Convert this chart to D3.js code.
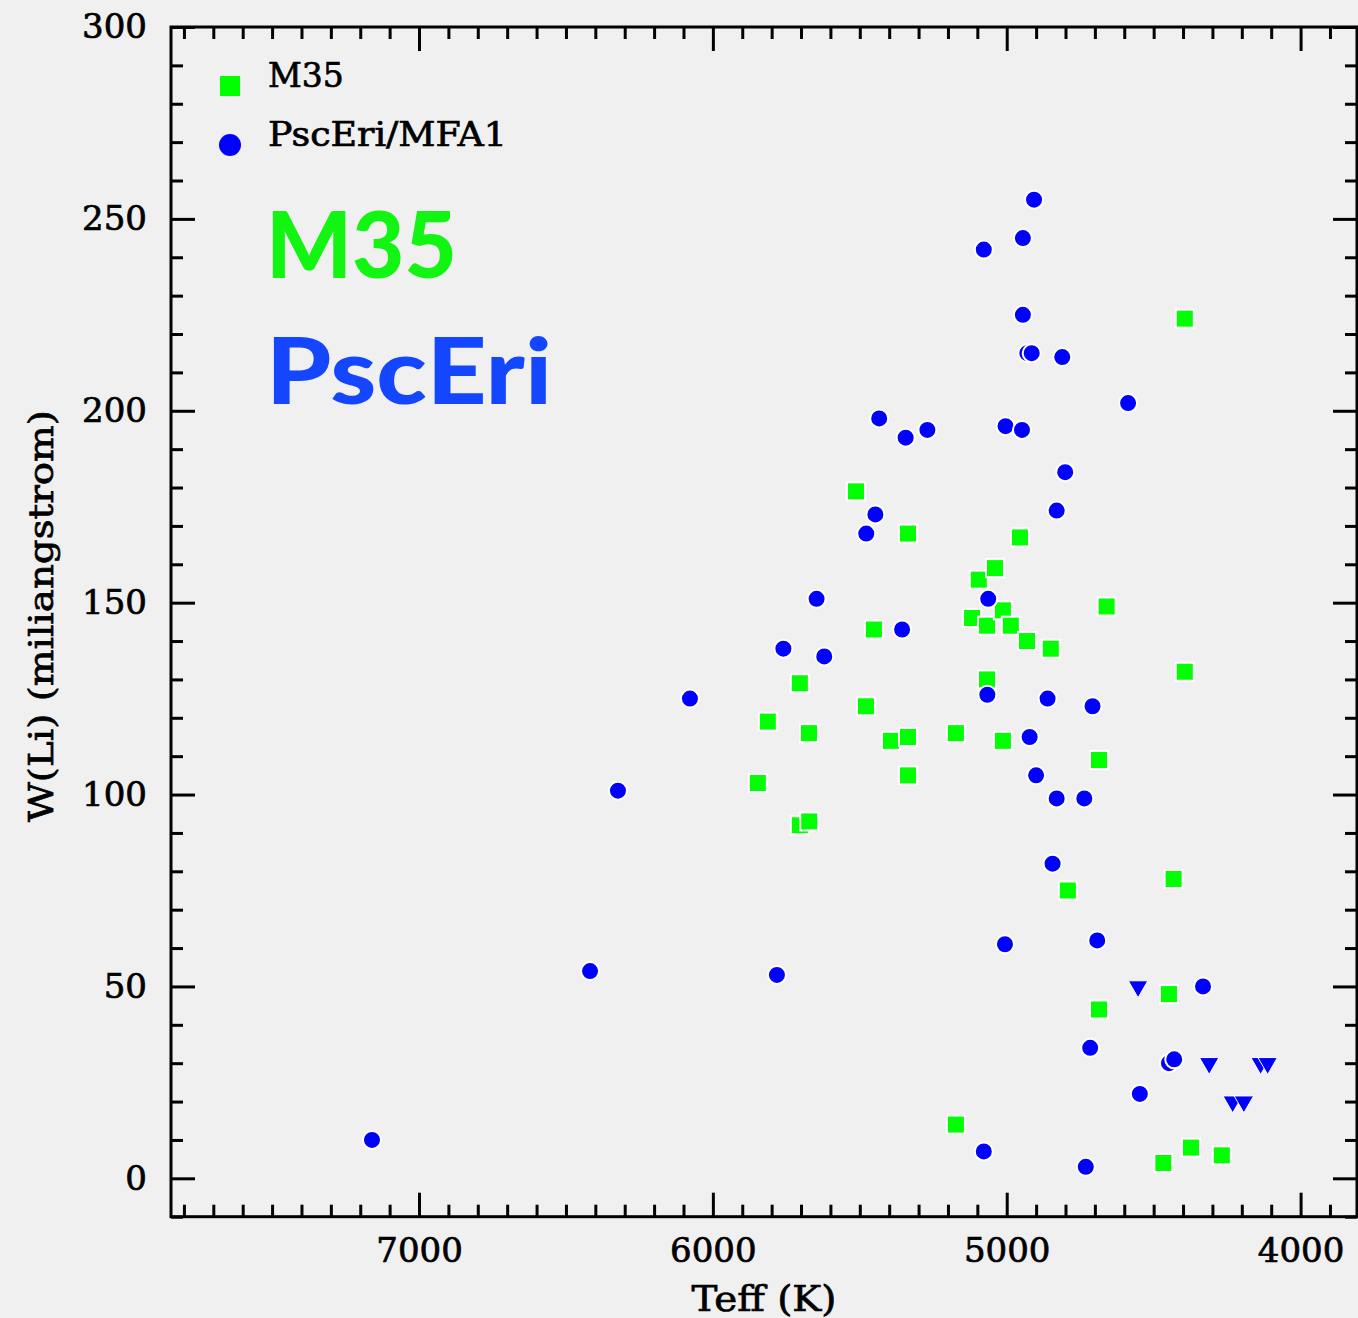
<!DOCTYPE html>
<html>
<head>
<meta charset="utf-8">
<script src="https://cdn.jsdelivr.net/npm/d3@7"></script>
<style>
  html, body { margin: 0; padding: 0; background: #f0f0f0; }
  svg { display: block; }
</style>
</head>
<body>
<div id="chart"></div>
<script>
// M35 (green squares)
const m35Teff = [5513, 5336, 5452, 5479, 5394, 5336, 5336, 5704, 5813, 5673, 5847, 5704, 5672,
  5173, 5173, 5118, 5095, 5040, 5067, 5067, 5013, 4986, 5013, 4955, 4931, 4850, 4792, 4686,
  4686, 4660, 4448, 4467, 4432, 4394, 4394, 4373, 4268];
const m35Wli = [179, 168, 143, 123, 114, 115, 105, 129, 119, 116, 103, 92, 93,
  116, 14, 146, 156, 159, 144, 130, 148, 144, 114, 167, 140, 138, 75, 109,
  44, 149, 48, 4, 78, 224, 132, 8, 6];

// PscEri/MFA1 detections (blue circles)
const pscTeff = [7160, 6418, 6323, 6078, 5782, 5760, 5647, 5621, 5478, 5447, 5434, 5356, 5344,
  5270, 5078, 5063, 5066, 5078, 5006, 5004, 4945, 4945, 4948, 4930, 4915, 4907, 4922, 4900,
  4861, 4844, 4830, 4830, 4811, 4801, 4736, 4731, 4716, 4708, 4692, 4587, 4547, 4448, 4430, 4332];
const pscWli = [10, 54, 101, 125, 53, 138, 151, 136, 168, 173, 198, 143, 193,
  195, 242, 151, 126, 7, 61, 196, 245, 225, 195, 215, 215, 255, 115, 105,
  125, 82, 99, 174, 214, 184, 99, 3, 34, 123, 62, 202, 22, 30, 31, 50];

// PscEri/MFA1 upper limits (blue down triangles)
const limTeff = [4553, 4311, 4231, 4193, 4136, 4112];
const limWli = [50, 30, 20, 20, 30, 30];

const xMajor = [7000, 6000, 5000, 4000];
const yMajor = [0, 50, 100, 150, 200, 250, 300];
const legendLabels = ["M35", "PscEri/MFA1"];
const bigLabels = ["M35", "PscEri"];

const W = 1358, H = 1318;
const pLeft = 171, pRight = 1357, pTop = 27, pBottom = 1216.7;
const green = "#00ff00", blue = "#0000ff";
const serif = "'DejaVu Serif', serif";

const svg = d3.select("#chart").append("svg")
  .attr("width", W).attr("height", H)
  .style("background", "#f0f0f0");

const x = d3.scaleLinear().domain([7844, 3808]).range([pLeft, pRight]);
const y = d3.scaleLinear().domain([-10, 300]).range([pBottom, pTop]);

const xMinor = d3.range(3900, 7900, 100).filter(v => v % 1000 !== 0);
const yMinor = d3.range(-10, 300, 10).filter(v => v % 50 !== 0);

// serif text drawn a little heavier, like the original plotting font
function heavy(sel) {
  sel.attr("fill", "#000").attr("stroke", "#000").attr("stroke-width", 0.7)
    .style("font-family", serif);
}

function styleAxis(g) {
  g.select(".domain").remove();
  g.selectAll(".tick line").attr("stroke", "#000").attr("stroke-width", 3);
  g.selectAll(".tick text").call(heavy).style("font-size", "34px");
}

// bottom
svg.append("g").attr("transform", `translate(0,${pBottom})`)
  .call(d3.axisBottom(x).tickValues(xMajor).tickSize(-24).tickSizeOuter(0)
    .tickPadding(21).tickFormat(d3.format("d")))
  .call(styleAxis);
svg.append("g").attr("transform", `translate(0,${pBottom})`)
  .call(d3.axisBottom(x).tickValues(xMinor).tickSize(-12).tickSizeOuter(0).tickFormat(""))
  .call(styleAxis);
// top
svg.append("g").attr("transform", `translate(0,${pTop})`)
  .call(d3.axisTop(x).tickValues(xMajor).tickSize(-24).tickSizeOuter(0).tickFormat(""))
  .call(styleAxis);
svg.append("g").attr("transform", `translate(0,${pTop})`)
  .call(d3.axisTop(x).tickValues(xMinor).tickSize(-12).tickSizeOuter(0).tickFormat(""))
  .call(styleAxis);
// left
svg.append("g").attr("transform", `translate(${pLeft},0)`)
  .call(d3.axisLeft(y).tickValues(yMajor).tickSize(-24).tickSizeOuter(0)
    .tickPadding(24).tickFormat(d3.format("d")))
  .call(styleAxis);
svg.append("g").attr("transform", `translate(${pLeft},0)`)
  .call(d3.axisLeft(y).tickValues(yMinor).tickSize(-12).tickSizeOuter(0).tickFormat(""))
  .call(styleAxis);
// right
svg.append("g").attr("transform", `translate(${pRight},0)`)
  .call(d3.axisRight(y).tickValues(yMajor).tickSize(-24).tickSizeOuter(0).tickFormat(""))
  .call(styleAxis);
svg.append("g").attr("transform", `translate(${pRight},0)`)
  .call(d3.axisRight(y).tickValues(yMinor).tickSize(-12).tickSizeOuter(0).tickFormat(""))
  .call(styleAxis);

// frame
svg.append("rect")
  .attr("x", pLeft).attr("y", pTop)
  .attr("width", pRight - pLeft).attr("height", pBottom - pTop)
  .attr("fill", "none").attr("stroke", "#000").attr("stroke-width", 3);

// axis titles
svg.append("text")
  .attr("x", 764).attr("y", 1311)
  .attr("text-anchor", "middle")
  .attr("textLength", 145).attr("lengthAdjust", "spacingAndGlyphs")
  .call(heavy).style("font-size", "36px")
  .text("Teff (K)");

svg.append("text")
  .attr("transform", "translate(53,616) rotate(-90)")
  .attr("text-anchor", "middle")
  .attr("textLength", 412).attr("lengthAdjust", "spacingAndGlyphs")
  .call(heavy).style("font-size", "34px")
  .text("W(Li) (miliangstrom)");

// big labels
svg.append("text")
  .attr("x", 266).attr("y", 278)
  .attr("textLength", 191).attr("lengthAdjust", "spacingAndGlyphs")
  .style("font-family", "Lato, 'DejaVu Sans', sans-serif")
  .style("font-weight", 900).style("font-size", "92px")
  .attr("fill", "#12f512")
  .text(bigLabels[0]);
svg.append("text")
  .attr("x", 266).attr("y", 404)
  .attr("textLength", 286).attr("lengthAdjust", "spacingAndGlyphs")
  .style("font-family", "Lato, 'DejaVu Sans', sans-serif")
  .style("font-weight", 900).style("font-size", "92px")
  .attr("fill", "#1446ff")
  .text(bigLabels[1]);

// legend
svg.append("rect").attr("x", 220).attr("y", 76).attr("width", 20).attr("height", 20).attr("fill", green);
svg.append("circle").attr("cx", 230).attr("cy", 145).attr("r", 11).attr("fill", blue);
svg.append("text").attr("x", 268).attr("y", 87)
  .call(heavy).style("font-size", "33px")
  .text(legendLabels[0]);
svg.append("text").attr("x", 268).attr("y", 146)
  .attr("textLength", 239).attr("lengthAdjust", "spacingAndGlyphs")
  .call(heavy).style("font-size", "33px")
  .text(legendLabels[1]);

// M35 squares
const sq = 18;
svg.append("g").selectAll("rect")
  .data(m35Teff.map((t, i) => ({ t, w: m35Wli[i] })))
  .join("rect")
  .attr("x", d => x(d.t) - sq / 2)
  .attr("y", d => y(d.w) - sq / 2)
  .attr("width", sq).attr("height", sq)
  .attr("fill", green).attr("stroke", "#fff").attr("stroke-width", 2);

// PscEri circles
svg.append("g").selectAll("circle")
  .data(pscTeff.map((t, i) => ({ t, w: pscWli[i] })))
  .join("circle")
  .attr("cx", d => x(d.t))
  .attr("cy", d => y(d.w))
  .attr("r", 9)
  .attr("fill", blue).attr("stroke", "#fff").attr("stroke-width", 2);

// upper limits
const tri = d3.symbol().type(d3.symbolTriangle).size(165);
svg.append("g").selectAll("path")
  .data(limTeff.map((t, i) => ({ t, w: limWli[i] })))
  .join("path")
  .attr("d", tri)
  .attr("transform", d => `translate(${x(d.t)},${y(d.w)}) rotate(180)`)
  .attr("fill", blue).attr("stroke", "#fff").attr("stroke-width", 1);
</script>
</body>
</html>
